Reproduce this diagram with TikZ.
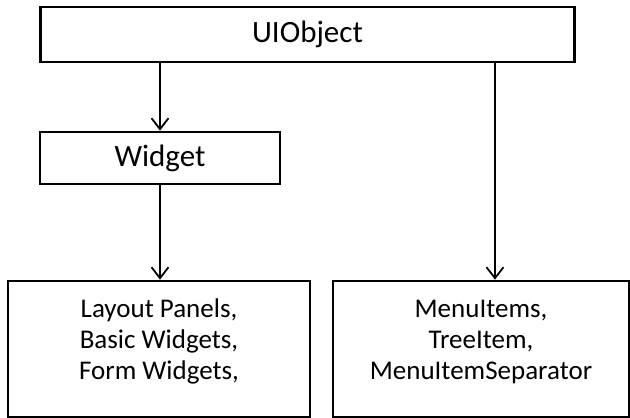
\documentclass[tikz,border=0pt]{standalone}
\usepackage{fontspec}
\setmainfont{Carlito}
\usepackage{tikz}
\usetikzlibrary{arrows.meta, positioning}

\newcommand{\liftlines}[1]{\raisebox{7pt}[\height][\depth]{\begin{tabular}{@{}c@{}}#1\end{tabular}}}

\begin{document}
\begin{tikzpicture}[x=1pt, y=-1pt,
    box/.style={draw, line width=2.7pt, inner sep=0pt, align=center},
    link/.style={->, line width=1.8pt},
    >={Straight Barb[length=11pt, width=17pt]}]
    \useasboundingbox (0,0) rectangle (630,418);
    \node[box, minimum width=534pt, minimum height=55pt, font=\fontsize{31}{37}\selectfont] (ui) at (307.5,34.5) {UIObject};
    \node[box, minimum width=240pt, minimum height=52pt, font=\fontsize{31}{37}\selectfont] (widget) at (160,158) {Widget};
    \node[box, minimum width=302pt, minimum height=136pt, font=\fontsize{27}{31}\selectfont] (panels) at (159,349) {\liftlines{Layout Panels,\\Basic Widgets,\\Form Widgets,}};
    \node[box, minimum width=296pt, minimum height=136pt, font=\fontsize{27}{31}\selectfont] (menu) at (481,349) {\liftlines{MenuItems,\\TreeItem,\\MenuItemSeparator}};

    \draw[link] (widget.north |- ui.south) -- (widget.north);
    \draw[link] (widget.south) -- (widget.south |- panels.north);
    \draw[link] ([xshift=14pt]menu.north |- ui.south) -- ([xshift=14pt]menu.north);
\end{tikzpicture}
\end{document}
